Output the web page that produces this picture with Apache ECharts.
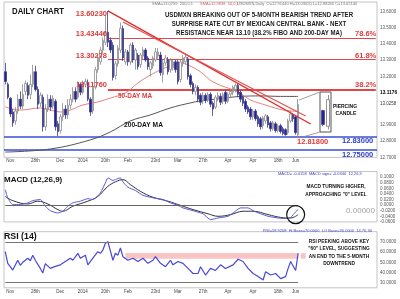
<!DOCTYPE html>
<html><head><meta charset="utf-8">
<script src="https://cdn.jsdelivr.net/npm/echarts@6/dist/echarts.min.js"></script>
<style>html,body{margin:0;padding:0;background:#fff}#c{width:400px;height:299px}</style>
</head><body><div id="c"></div>
<script>
// ---------- data ----------
const tickIdx = [2,12,22,31,40,49,60,69,79,89,99,109,116];
const tickLabels = ['Nov','28th','Dec','2014','20th','Feb','23rd','Mar','27th','Apr','Apr','18th','Jun'];
// [open, close, low, high]
const ohlc = [
[13.228,13.168,13.150,13.283],[13.150,13.071,13.059,13.162],[13.065,12.968,12.950,13.071],[12.980,12.913,12.889,12.998],
[12.925,12.986,12.901,13.010],[12.986,13.059,12.968,13.089],[13.059,13.016,12.998,13.107],[13.016,13.089,12.998,13.150],
[13.107,13.156,13.083,13.174],[13.144,13.083,13.059,13.162],[13.089,13.150,13.059,13.210],[13.150,13.228,13.132,13.271],
[13.228,13.119,13.107,13.265],[13.119,13.028,12.998,13.138],[13.034,13.083,13.010,13.101],[13.071,12.889,12.859,13.089],
[12.889,12.998,12.865,13.028],[12.998,13.059,12.980,13.089],[13.059,13.010,12.986,13.083],[13.016,13.065,12.998,13.083],
[13.046,12.889,12.865,13.059],[12.907,12.859,12.831,12.925],[12.865,12.950,12.847,12.968],[12.950,12.998,12.925,13.034],
[12.998,12.962,12.938,13.022],[12.962,13.022,12.938,13.059],[13.022,13.059,12.998,13.089],[13.059,13.107,13.040,13.132],
[13.107,13.059,13.040,13.132],[13.071,13.150,13.059,13.168],[13.150,13.101,13.083,13.162],[13.101,13.156,13.089,13.174],
[13.150,13.168,13.132,13.186],[13.162,13.059,13.046,13.180],[13.059,12.980,12.956,13.071],[12.986,13.132,12.968,13.144],
[13.132,13.241,13.119,13.259],[13.241,13.313,13.222,13.331],[13.289,13.362,13.271,13.380],[13.362,13.422,13.344,13.440],
[13.410,13.471,13.392,13.574],[13.471,13.410,13.380,13.6023],[13.422,13.362,13.344,13.440],[13.392,13.192,13.174,13.410],
[13.204,13.277,13.180,13.295],[13.277,13.374,13.259,13.392],[13.362,13.495,13.344,13.531],[13.495,13.313,13.295,13.513],
[13.289,13.350,13.271,13.368],[13.350,13.289,13.265,13.362],[13.289,13.392,13.271,13.404],[13.392,13.301,13.283,13.410],
[13.301,13.362,13.241,13.374],[13.331,13.259,13.241,13.344],[13.271,13.331,13.253,13.344],[13.325,13.362,13.307,13.380],
[13.362,13.301,13.289,13.374],[13.313,13.259,13.241,13.325],[13.241,13.283,13.198,13.295],[13.265,13.313,13.247,13.325],
[13.301,13.350,13.289,13.374],[13.325,13.350,13.307,13.374],[13.331,13.222,13.204,13.350],[13.210,13.283,13.162,13.301],
[13.283,13.313,13.265,13.331],[13.301,13.228,13.210,13.319],[13.241,13.301,13.222,13.313],[13.253,13.289,13.235,13.301],
[13.289,13.241,13.222,13.301],[13.289,13.168,13.150,13.301],[13.180,13.289,13.162,13.301],[13.277,13.313,13.259,13.331],
[13.289,13.319,13.271,13.331],[13.307,13.198,13.180,13.319],[13.204,13.150,13.132,13.216],[13.156,13.107,13.089,13.168],
[13.107,13.132,13.083,13.150],[13.132,13.059,13.040,13.144],[13.083,13.040,13.022,13.095],[13.046,13.083,13.028,13.101],
[13.083,13.053,13.034,13.095],[13.059,13.089,13.040,13.101],[13.089,13.028,13.010,13.101],[13.034,12.998,12.956,13.046],
[13.010,13.071,12.998,13.083],[13.059,13.083,13.046,13.101],[13.077,13.040,13.022,13.095],[13.046,13.089,13.028,13.101],
[13.101,13.046,13.028,13.113],[13.046,13.089,13.034,13.101],[13.089,13.107,13.071,13.119],[13.101,13.132,13.083,13.144],
[13.119,13.144,13.101,13.156],[13.144,13.089,13.071,13.156],[13.101,13.059,13.040,13.113],[13.071,13.034,13.016,13.083],
[13.046,12.998,12.980,13.059],[13.010,12.980,12.968,13.022],[12.998,12.950,12.932,13.010],[12.950,12.986,12.932,12.998],
[12.986,12.938,12.925,12.998],[12.950,12.907,12.889,12.962],[12.938,12.889,12.871,12.950],[12.895,12.944,12.877,12.956],
[12.925,12.956,12.907,12.968],[12.950,12.901,12.883,12.962],[12.913,12.877,12.859,12.925],[12.877,12.913,12.865,12.925],
[12.907,12.865,12.853,12.919],[12.865,12.895,12.853,12.907],[12.895,12.859,12.847,12.907],[12.877,12.847,12.836,12.889],
[12.871,12.840,12.834,12.880],[12.853,12.925,12.840,12.938],[12.925,12.968,12.913,12.986],[12.962,12.938,12.919,12.974],
[12.950,12.853,12.840,12.956],[12.840,13.026,12.818,13.059]
];
const ma50 = [[0,13.011],[6,12.992],[14,13.005],[22,12.980],[26,12.992],[31,13.023],[37,13.042],[42,13.066],[48,13.097],
[53,13.159],[58,13.208],[62,13.239],[66,13.265],[70,13.282],[73,13.270],[78,13.227],[83,13.165],[93,13.103],[98,13.054],
[104,13.023],[111,12.992],[117,12.984]];
const ma200 = [[0,12.733],[18,12.752],[34,12.808],[42,12.857],[50,12.925],[58,12.962],[66,13.005],[74,13.036],[78,13.048],
[86,13.063],[94,13.076],[102,13.079],[110,13.076],[117,13.0759]];
const trendA = [[41,13.603],[122,12.906]];
const trendB = [[47,13.535],[120,12.955]];
const fibLevels = [13.43446, 13.30278, 13.1176];
const fibStart = 41, fibEnd = 148;
const supportLevels = [12.83, 12.75];
const macd = [[0,0.055],[1,0.026],[3,0.002],[6,0.002],[9,0.008],[11,0.016],[14,0.020],[16,-0.004],[18,-0.020],[21,-0.028],
[23,-0.022],[25,-0.004],[27,0.008],[30,0.014],[33,0.023],[35,0.020],[38,0.044],[40,0.079],[41,0.097],[43,0.088],[44,0.091],
[45,0.095],[46,0.097],[47,0.083],[49,0.064],[52,0.052],[55,0.035],[59,0.026],[63,0.020],[66,0.008],[69,-0.001],[71,-0.010],
[75,-0.020],[79,-0.031],[82,-0.052],[85,-0.046],[89,-0.040],[91,-0.028],[94,-0.010],[97,-0.010],[99,-0.020],[102,-0.031],
[105,-0.040],[109,-0.046],[112,-0.048],[114,-0.044],[116,-0.024],[117,-0.016]];
const signal = [[0,0.031],[3,0.016],[9,0.004],[13,0.014],[17,0.004],[21,-0.016],[23,-0.022],[27,-0.004],[33,0.014],[37,0.031],
[41,0.067],[44,0.083],[47,0.091],[50,0.073],[54,0.049],[59,0.028],[65,0.014],[70,-0.001],[75,-0.016],[81,-0.031],[85,-0.040],
[90,-0.034],[95,-0.022],[99,-0.022],[105,-0.034],[110,-0.044],[114,-0.046],[117,-0.034]];
const rsi = [[0,60.4],[1,49],[2,45.7],[3,42.4],[5,52],[6,47],[7,50],[9,54],[10,51.5],[11,57],[12,52],[14,44],[15,39.5],[16,48.7],
[18,44],[20,46],[22,47.5],[24,50.8],[26,54],[27,52],[29,58.8],[30,54],[32,57],[33,47.5],[35,54],[37,60.4],[38,58.8],[39,62],
[40,68.6],[41,70.2],[43,52],[44,58.8],[45,57],[46,64],[47,55.5],[49,52],[51,54],[53,50.8],[55,54],[57,49],[59,52],[60,55.5],
[62,49],[64,45.7],[66,52],[67,47.5],[69,50.8],[71,49],[73,44],[75,39],[77,39],[78,45.7],[80,37.5],[82,44],[84,42],[86,47.5],
[88,44],[91,47.5],[93,53],[95,50.8],[97,44],[99,39],[101,36],[103,32.6],[104,40.7],[106,37.5],[108,39],[110,34],[112,36],
[113,44],[114,50.8],[116,42],[117,58.9]];
const rsiBand = [53.5, 59];
const rsiLevels = [70, 30];
const macdCircleAt = [116, -0.034];

// ---------- layout ----------
const T = 149;
const cats = Array.from({length: T}, (_, i) => String(i));
const L = 4, W = 373;
const FONT = '"Liberation Sans", Arial, sans-serif';

function xAxis(gi, labels) {
  return {type:'category', gridIndex: gi, data: cats, boundaryGap: true,
    axisLine:{show:false}, axisTick:{show:false}, splitLine:{show:false},
    axisLabel: labels ? {show:true, fontSize:4.5, color:'#444', margin:1, fontFamily: FONT,
      interval: (idx) => tickIdx.indexOf(idx) >= 0,
      formatter: (v, idx) => { const k = tickIdx.indexOf(idx); return k >= 0 ? tickLabels[k] : ''; }} : {show:false}};
}
function yLab(fmt) {
  return {show:true, fontSize:4.5, color:'#555', margin:3, fontFamily: FONT, formatter: fmt};
}
const gridBase = {show:true, borderColor:'#c4c4c4', borderWidth:1, containLabel:false, outerBoundsMode:'none'};

const option = {
  animation: false,
  backgroundColor: '#fff',
  grid: [
    Object.assign({left:L, top:2, width:W, height:155.4}, gridBase),
    Object.assign({left:L, top:171.5, width:W, height:50.4}, gridBase),
    Object.assign({left:L, top:231.7, width:W, height:56.1}, gridBase),
    {left:320, top:92, width:11, height:40, show:true, borderColor:'#555', borderWidth:1, backgroundColor:'#fff', containLabel:false, outerBoundsMode:'none', z:20}
  ],
  xAxis: [xAxis(0, true), xAxis(1, false), xAxis(2, true),
    {type:'category', gridIndex:3, data:['a','b'], show:false}],
  yAxis: [
    {type:'value', gridIndex:0, position:'right', min:12.70, max:13.658, interval:0.1,
      axisLine:{show:false}, axisTick:{show:false}, splitLine:{show:false},
      axisLabel: Object.assign(yLab(v => { const r = Math.round(v*10)/10; if (Math.abs(v-r) > 1e-6 || r > 13.65) return ''; if (Math.abs(r-13.1)<1e-6 || Math.abs(r-13.0)<1e-6) return ''; return r.toFixed(4); }), {showMaxLabel:false})},
    {type:'value', gridIndex:1, position:'right', min:-0.06, max:0.12, interval:0.02,
      axisLine:{show:false}, axisTick:{show:false}, splitLine:{show:false},
      axisLabel: Object.assign(yLab(v => { if (v > 0.101) return ''; const r = Math.round(v*100)/100; return (Math.abs(r) < 1e-9 ? 0 : r).toFixed(4); }), {showMaxLabel:false})},
    {type:'value', gridIndex:2, position:'right', min:25, max:80, interval:5,
      axisLine:{show:false}, axisTick:{show:false}, splitLine:{show:false},
      axisLabel: yLab(v => (v % 10 === 0 && v >= 30 && v <= 70) ? v.toFixed(4) : '')},
    {type:'value', gridIndex:3, min:12.80, max:13.08, show:false}
  ],
  series: [
    {type:'line', xAxisIndex:0, yAxisIndex:0, data: ma200, symbol:'none', smooth:0.4, lineStyle:{color:'#555', width:1}, z:2},
    {type:'line', xAxisIndex:0, yAxisIndex:0, data: ma50, symbol:'none', smooth:0.4, lineStyle:{color:'#e88080', width:1}, z:2},
    {type:'candlestick', xAxisIndex:0, yAxisIndex:0, data: ohlc, barWidth:2, z:3,
      itemStyle:{color:'#ffffff', color0:'#22229a', borderColor:'#8a8a8a', borderColor0:'#3a3a8a', borderWidth:0.8},
      markLine: {silent:true, symbol:['none','none'], label:{show:false}, z:1,
        data: [
          [{coord:[fibStart, fibLevels[0]]}, {coord:[fibEnd, fibLevels[0]]}],
          [{coord:[fibStart, fibLevels[1]]}, {coord:[fibEnd, fibLevels[1]]}],
          [{coord:[fibStart, fibLevels[2]], lineStyle:{width:1.8}}, {coord:[fibEnd, fibLevels[2]]}],
          {yAxis: supportLevels[0], lineStyle:{color:'#3a4ed0', width:1.5, type:'solid'}},
          {yAxis: supportLevels[1], lineStyle:{color:'#3a4ed0', width:1.5, type:'solid'}}
        ],
        lineStyle:{color:'#e04848', width:1, type:'solid'}}},
    {type:'line', xAxisIndex:0, yAxisIndex:0, data: trendA, symbol:'none', lineStyle:{color:'#e02828', width:1.3}, z:4},
    {type:'line', xAxisIndex:0, yAxisIndex:0, data: trendB, symbol:'none', lineStyle:{color:'#e85050', width:1.2}, z:4},
    {type:'line', xAxisIndex:1, yAxisIndex:1, data: signal, symbol:'none', smooth:0.4, lineStyle:{color:'#333', width:1}, z:2,
      markLine:{silent:true, symbol:['none','none'], label:{show:false}, lineStyle:{color:'#666', width:1, type:'solid'},
        data:[[{coord:[0,0]},{coord:[117,0]}]]}},
    {type:'line', xAxisIndex:1, yAxisIndex:1, data: macd, symbol:'none', smooth:0.2, lineStyle:{color:'#5a5ae0', width:1}, z:3,
      markPoint:{silent:true, data:[{coord: macdCircleAt, symbol:'circle', symbolSize:18,
        itemStyle:{color:'rgba(0,0,0,0)', borderColor:'#111', borderWidth:1.2}, label:{show:false}}]}},
    {type:'line', xAxisIndex:2, yAxisIndex:2, data: rsi, symbol:'none', lineStyle:{color:'#4848d8', width:1.2}, z:3,
      markLine:{silent:true, symbol:['none','none'], label:{show:false}, lineStyle:{color:'#777', width:1, type:'solid'},
        data: rsiLevels.map(v => [{coord:[0, v]}, {coord:[117, v]}])},
      markArea:{silent:true, itemStyle:{color:'rgba(244,165,165,0.65)'},
        data:[[{coord:[48, rsiBand[0]]},{coord:[117, rsiBand[1]]}], [{coord:[118, rsiBand[0]]},{coord:[120, rsiBand[1]]}]]}},
    {type:'candlestick', xAxisIndex:3, yAxisIndex:3, data: ohlc.slice(-2), barWidth:3.5, z:25,
      itemStyle:{color:'#ffffff', color0:'#22229a', borderColor:'#777', borderColor0:'#4a4a8a', borderWidth:0.8}}
  ]
};

function txt(x, y, text, o) {
  const font = (o.w || 'bold') + ' ' + o.s + 'px ' + FONT;
  return {type:'text', x:x, y:y, scaleX:o.sx || 1, silent:true, z:100,
    style:{text:text, fill:o.c || '#111', font:font, textAlign:o.a || 'left', align:o.a || 'left',
      textVerticalAlign:'middle', verticalAlign:'middle'}};
}
const RED = '#e03a3a', BLUE = '#2b3fc8';
option.graphic = [
  txt(12, 11, 'DAILY CHART', {s:9.5, sx:0.82}),
  txt(259, 15, 'USDMXN BREAKING OUT OF 5-MONTH BEARISH TREND AFTER', {s:8, sx:0.76, a:'center', c:'#1a1a1a'}),
  txt(259, 24, 'SURPRISE RATE CUT BY MEXICAN CENTRAL BANK - NEXT', {s:8, sx:0.76, a:'center', c:'#1a1a1a'}),
  txt(259, 32.5, 'RESISTANCE NEAR 13.10 (38.2% FIBO AND 200-DAY MA)', {s:8, sx:0.76, a:'center', c:'#1a1a1a'}),
  txt(152, 4, 'SMA=13.0759  200,0,1', {s:4, w:'normal', c:'#777'}),
  txt(200, 4, 'SMA=12.9838  50,0,1', {s:4, w:'normal', c:'#d06060'}),
  txt(237, 4, 'USDMXN,Daily  O=12.91440 H=13.03020 L=12.88260 C=13.02140', {s:4, w:'normal', c:'#777'}),
  txt(107, 14, '13.60230', {s:7.5, a:'right', c:RED}),
  txt(107, 34, '13.43446', {s:7.5, a:'right', c:RED}),
  txt(107, 55.5, '13.30278', {s:7.5, a:'right', c:RED}),
  txt(107, 85, '13.11760', {s:7.5, a:'right', c:RED}),
  txt(355, 34, '78.6%', {s:7.5, c:RED}),
  txt(355, 55.5, '61.8%', {s:7.5, c:RED}),
  txt(355, 85, '38.2%', {s:7.5, c:RED}),
  txt(118, 96.5, '50-DAY MA', {s:7, sx:0.92, c:RED}),
  txt(124, 125, '200-DAY MA', {s:7, sx:0.95, c:'#111'}),
  txt(297, 142, '12.81800', {s:7.5, c:RED}),
  txt(342, 141, '12.83000', {s:7.5, c:BLUE}),
  txt(342, 155, '12.75000', {s:7.5, c:BLUE}),
  txt(345, 107, 'PIERCING', {s:5, a:'center'}),
  txt(346, 114, 'CANDLE', {s:5, a:'center'}),
  txt(380, 92.5, '13.1176', {s:4.8, c:'#000'}),
  txt(380, 103.5, '13.0258', {s:4.5, w:'normal', c:'#333'}),
  {type:'line', silent:true, z:30, shape:{x1:299, y1:100, x2:320, y2:92}, style:{stroke:'#888', lineWidth:0.8}},
  {type:'line', silent:true, z:30, shape:{x1:299, y1:138, x2:320, y2:132}, style:{stroke:'#888', lineWidth:0.8}},
  txt(4, 180, 'MACD (12,26,9)', {s:8}),
  txt(278, 173.5, 'MACD= -0.0158  MACD sign= -0.0340  12,26,9', {s:4, w:'normal', c:'#4040c0'}),
  txt(336, 186.5, 'MACD TURNING HIGHER,', {s:6, sx:0.8, a:'center'}),
  txt(336, 194, 'APPROACHING "0" LEVEL', {s:6, sx:0.8, a:'center'}),
  txt(375, 211, '0.00000', {s:8, w:'normal', a:'right', c:'#a0a0a0'}),
  txt(263, 230.5, 'RSI=58.9208  Hi Base=70.0000  LO Base=30.0000  14,70,30', {s:4, w:'normal', c:'#4040c0'}),
  txt(4, 237, 'RSI (14)', {s:8.8}),
  txt(339, 241.5, 'RSI PEEKING ABOVE KEY', {s:6, sx:0.8, a:'center'}),
  txt(339, 248.5, '"60" LEVEL, SUGGESTING', {s:6, sx:0.8, a:'center'}),
  txt(339, 256, 'AN END TO THE 5-MONTH', {s:6, sx:0.8, a:'center'}),
  txt(339, 263.5, 'DOWNTREND', {s:6, sx:0.8, a:'center'})
];

const chart = echarts.init(document.getElementById('c'), null, {renderer:'canvas'});
chart.setOption(option);
</script></body></html>
